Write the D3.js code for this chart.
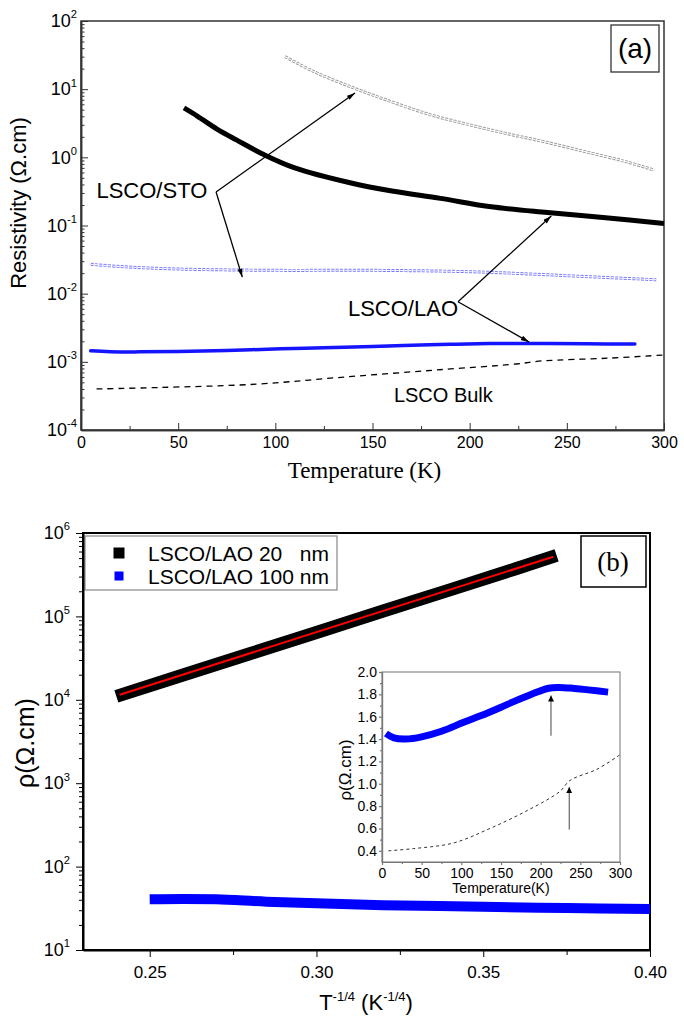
<!DOCTYPE html>
<html>
<head>
<meta charset="utf-8">
<script src="https://cdn.jsdelivr.net/npm/d3@7"></script>
<style>
body { margin: 0; background: #fff; }
svg text { font-family: "Liberation Sans", Arial, sans-serif; fill: #000; }
.serif { font-family: "Liberation Serif", "Times New Roman", serif !important; }
</style>
</head>
<body>
<div id="chart"></div>
<script>
// ---- data ----
// panel (a): temperature (K) vs resistivity (ohm.cm)
var stoGrayT   = [105, 120, 140, 160, 180, 200, 220, 240, 260, 280, 295];
var stoGrayRho = [30, 18, 10.5, 6.5, 4.2, 3.0, 2.2, 1.65, 1.2, 0.87, 0.65];

var stoBlackT   = [53, 60, 70, 80, 94, 110, 139, 160, 185, 210, 240, 270, 300];
var stoBlackRho = [5.3, 4.0, 2.6, 1.8, 1.1, 0.7, 0.42, 0.32, 0.25, 0.19, 0.155, 0.13, 0.107];

var stoBlueT   = [5, 20, 50, 100, 150, 200, 230, 260, 296];
var stoBlueRho = [0.027, 0.025, 0.023, 0.022, 0.022, 0.021, 0.0195, 0.0178, 0.016];

// LSCO/LAO 100 nm and bulk, in mOhm.cm (inset units)
var laoT   = [5, 15, 30, 50, 75, 103, 125, 150, 166, 190, 210, 222, 240, 260, 285];
var laoRho = [1.45, 1.41, 1.40, 1.42, 1.47, 1.55, 1.61, 1.685, 1.735, 1.805, 1.855, 1.862, 1.855, 1.84, 1.82];

var bulkT   = [8, 40, 90, 136, 183, 224, 237, 271, 300];
var bulkRho = [0.40, 0.42, 0.47, 0.60, 0.76, 0.93, 1.03, 1.13, 1.26];

// panel (b): T^-1/4 vs resistivity
var vrh20X   = [0.240, 0.260, 0.280, 0.300, 0.320, 0.340, 0.360, 0.372];
var vrh20Rho = [1.1e4, 1.98e4, 3.57e4, 6.4e4, 1.16e5, 2.08e5, 3.75e5, 5.4e5];
var fitX   = [0.241, 0.371];
var fitRho = [1.15e4, 5.2e5];
var vrh100X   = [0.250, 0.260, 0.270, 0.285, 0.300, 0.320, 0.350, 0.375, 0.400];
var vrh100Rho = [40.5, 41, 40.5, 38, 36.3, 34.5, 33, 31.8, 31];

var legendNames = ["LSCO/LAO 20   nm", "LSCO/LAO 100 nm"];
var tempTicks = [0, 50, 100, 150, 200, 250, 300];
var vrhTicks = [0.25, 0.30, 0.35, 0.40];
var insetYTicks = [0.4, 0.6, 0.8, 1.0, 1.2, 1.4, 1.6, 1.8, 2.0];

// annotation anchors (data units)
var stoFrom = [69.5, 0.31], stoTips = [[141, 8.8], [83, 0.0175]];
var laoFrom = [194, 0.0076], laoTips = [[242, 0.138], [230.6, 0.00195]];
var insetArrows = [[213, 1.43, 1.79], [236, 0.59, 0.97]];

var W = 684, H = 1019;
var svg = d3.select("#chart").append("svg").attr("width", W).attr("height", H);

var defs = svg.append("defs");
defs.append("marker").attr("id", "arr")
    .attr("viewBox", "0 0 10 6").attr("refX", 10).attr("refY", 3)
    .attr("markerWidth", 9).attr("markerHeight", 5).attr("markerUnits", "userSpaceOnUse")
    .attr("orient", "auto")
  .append("path").attr("d", "M0,0L10,3L0,6Z").attr("fill", "#000");
defs.append("marker").attr("id", "arr2")
    .attr("viewBox", "0 0 10 10").attr("refX", 10).attr("refY", 5)
    .attr("markerWidth", 10).attr("markerHeight", 6).attr("markerUnits", "userSpaceOnUse")
    .attr("orient", "auto")
  .append("path").attr("d", "M0,0L10,5L0,10Z").attr("fill", "#000");

function logMinor(lo, hi) {
  var v = [];
  for (var e = lo; e < hi; e++)
    for (var k = 2; k < 10; k++) v.push(k * Math.pow(10, e));
  return v;
}

function logLabels(g) {
  g.selectAll(".tick text").each(function(d) {
    var t = d3.select(this), e = Math.round(Math.log10(d));
    t.text(null);
    t.append("tspan").text("10");
    t.append("tspan").attr("font-size", "0.62em").attr("dy", "-0.8em").text(e);
  });
}

function zipLine(xs, ys, x, y, curve) {
  return d3.line().x(function(d) { return x(d[0]); }).y(function(d) { return y(d[1]); })
    .curve(curve || d3.curveCatmullRom)(d3.zip(xs, ys));
}

// ================= panel (a) =================
var pa = {left: 81, right: 664, top: 21, bottom: 430};
var xa = d3.scaleLinear().domain([0, 300]).range([pa.left, pa.right]);
var ya = d3.scaleLog().domain([1e-4, 1e2]).range([pa.bottom, pa.top]);

svg.append("rect")
    .attr("x", pa.left).attr("y", pa.top)
    .attr("width", pa.right - pa.left).attr("height", pa.bottom - pa.top)
    .attr("fill", "none").attr("stroke", "#333").attr("stroke-width", 1.5);

var ga = svg.append("g");

// open-square dotted series (gray and blue)
[[stoGrayT, stoGrayRho, "#9a9a9a"], [stoBlueT, stoBlueRho, "#7878ff"]].forEach(function(s) {
  var d = zipLine(s[0], s[1], xa, ya);
  ga.append("path").attr("d", d).attr("fill", "none")
    .attr("stroke", s[2]).attr("stroke-width", 3).attr("stroke-dasharray", "3 1.3");
  ga.append("path").attr("d", d).attr("fill", "none")
    .attr("stroke", "#fff").attr("stroke-width", 1.1).attr("stroke-dasharray", "3 1.3");
});

ga.append("path")
    .attr("d", zipLine(stoBlackT, stoBlackRho, xa, ya))
    .attr("fill", "none").attr("stroke", "#000").attr("stroke-width", 5);

ga.append("path")
    .attr("d", zipLine(laoT, laoRho.map(function(v) { return v * 1e-3; }), xa, ya))
    .attr("fill", "none").attr("stroke", "#1414ff").attr("stroke-width", 3.5)
    .attr("stroke-linecap", "round");

ga.append("path")
    .attr("d", zipLine(bulkT, bulkRho.map(function(v) { return v * 1e-3; }), xa, ya))
    .attr("fill", "none").attr("stroke", "#000").attr("stroke-width", 1.3)
    .attr("stroke-dasharray", "6 5");

// annotations
function arrowA(from, to) {
  ga.append("line")
      .attr("x1", xa(from[0])).attr("y1", ya(from[1]))
      .attr("x2", xa(to[0])).attr("y2", ya(to[1]))
      .attr("stroke", "#000").attr("stroke-width", 1.3)
      .attr("marker-end", "url(#arr)");
}
stoTips.forEach(function(t) { arrowA(stoFrom, t); });
laoTips.forEach(function(t) { arrowA(laoFrom, t); });

ga.append("text").attr("x", xa(65)).attr("y", ya(0.33)).attr("dy", "0.36em")
    .attr("text-anchor", "end").attr("font-size", 22).text("LSCO/STO");
ga.append("text").attr("x", xa(194)).attr("y", ya(0.0062)).attr("dy", "0.36em")
    .attr("text-anchor", "end").attr("font-size", 22).text("LSCO/LAO");
ga.append("text").attr("x", xa(161)).attr("y", ya(3.26e-4)).attr("dy", "0.36em")
    .attr("font-size", 20).text("LSCO Bulk");

// axes (inward ticks)
var yaAxis = svg.append("g").attr("transform", "translate(" + pa.left + ",0)")
    .call(d3.axisLeft(ya).tickValues([1e-4, 1e-3, 1e-2, 1e-1, 1, 10, 100])
      .tickSizeInner(-7).tickSizeOuter(0).tickPadding(4));
yaAxis.selectAll("text").attr("font-size", 18).attr("font-family", "Liberation Sans");
logLabels(yaAxis);
svg.append("g").attr("transform", "translate(" + pa.left + ",0)")
    .call(d3.axisLeft(ya).tickValues(logMinor(-4, 2)).tickFormat("").tickSizeInner(-3.5).tickSizeOuter(0));

var xaAxis = svg.append("g").attr("transform", "translate(0," + pa.bottom + ")")
    .call(d3.axisBottom(xa).tickValues(tempTicks).tickSizeInner(-7).tickSizeOuter(0).tickPadding(7));
xaAxis.selectAll("text").attr("font-size", 16).attr("font-family", "Liberation Sans");
svg.append("g").attr("transform", "translate(0," + pa.bottom + ")")
    .call(d3.axisBottom(xa).tickValues([25, 75, 125, 175, 225, 275]).tickFormat("").tickSizeInner(-4).tickSizeOuter(0));

svg.selectAll(".domain").attr("stroke", "#333").attr("stroke-width", 1.5);
svg.selectAll(".tick line").attr("stroke", "#333");

svg.append("text")
    .attr("transform", "translate(26," + 203 + ")rotate(-90)")
    .attr("text-anchor", "middle").attr("font-size", 22)
    .text("Resistivity (\u03A9.cm)");

svg.append("text").attr("class", "serif")
    .attr("x", (pa.left + pa.right) / 2 - 8).attr("y", 478)
    .attr("text-anchor", "middle").attr("font-size", 23)
    .text("Temperature (K)");

svg.append("rect").attr("x", 611).attr("y", 25).attr("width", 48).attr("height", 47)
    .attr("fill", "#fff").attr("stroke", "#333").attr("stroke-width", 1.3);
svg.append("text").attr("x", 635).attr("y", 58).attr("text-anchor", "middle")
    .attr("font-size", 28).text("(a)");

// ================= panel (b) =================
var pb = {left: 83, right: 650, top: 533, bottom: 950};
var xb = d3.scaleLinear().domain([0.23, 0.40]).range([pb.left, pb.right]);
var yb = d3.scaleLog().domain([10, 1e6]).range([pb.bottom, pb.top]);

svg.append("rect")
    .attr("x", pb.left).attr("y", pb.top)
    .attr("width", pb.right - pb.left).attr("height", pb.bottom - pb.top)
    .attr("fill", "none").attr("stroke", "#000").attr("stroke-width", 2);

var gb = svg.append("g");
gb.append("path")
    .attr("d", zipLine(vrh20X, vrh20Rho, xb, yb, d3.curveLinear))
    .attr("fill", "none").attr("stroke", "#000").attr("stroke-width", 13);
gb.append("path")
    .attr("d", zipLine(fitX, fitRho, xb, yb, d3.curveLinear))
    .attr("fill", "none").attr("stroke", "#ff0000").attr("stroke-width", 2);
gb.append("path")
    .attr("d", zipLine(vrh100X, vrh100Rho, xb, yb))
    .attr("fill", "none").attr("stroke", "#0000ff").attr("stroke-width", 10);

// legend
var leg = svg.append("g");
leg.append("rect").attr("x", 85).attr("y", 536).attr("width", 252).attr("height", 54)
    .attr("fill", "#fff").attr("stroke", "#888").attr("stroke-width", 1.2);
legendNames.forEach(function(name, i) {
  var cy = 553 + i * 23;
  var s = i === 0 ? 11 : 9;
  leg.append("rect").attr("x", 119 - s / 2).attr("y", cy - s / 2).attr("width", s).attr("height", s)
      .attr("fill", i === 0 ? "#000" : "#0000ff");
  leg.append("text").attr("x", 148).attr("y", cy).attr("dy", "0.36em")
      .attr("font-size", 21).style("white-space", "pre").text(name);
});

svg.append("rect").attr("x", 581).attr("y", 536).attr("width", 65).attr("height", 51)
    .attr("fill", "#fff").attr("stroke", "#000").attr("stroke-width", 1.5);
svg.append("text").attr("class", "serif").attr("x", 613).attr("y", 571)
    .attr("text-anchor", "middle").attr("font-size", 27).text("(b)");

// axes (outward ticks)
var ybAxis = svg.append("g").attr("transform", "translate(" + pb.left + ",0)")
    .call(d3.axisLeft(yb).tickValues([10, 100, 1e3, 1e4, 1e5, 1e6])
      .tickSizeInner(7).tickSizeOuter(0).tickPadding(6));
ybAxis.selectAll("text").attr("font-size", 18).attr("font-family", "Liberation Sans");
logLabels(ybAxis);
svg.append("g").attr("transform", "translate(" + pb.left + ",0)")
    .call(d3.axisLeft(yb).tickValues(logMinor(1, 6)).tickFormat("").tickSizeInner(4).tickSizeOuter(0));

var xbAxis = svg.append("g").attr("transform", "translate(0," + pb.bottom + ")")
    .call(d3.axisBottom(xb).tickValues(vrhTicks).tickFormat(d3.format(".2f"))
      .tickSizeInner(7).tickSizeOuter(0).tickPadding(9));
xbAxis.selectAll("text").attr("font-size", 17).attr("font-family", "Liberation Sans");
svg.append("g").attr("transform", "translate(0," + pb.bottom + ")")
    .call(d3.axisBottom(xb).tickValues([0.275, 0.325, 0.375]).tickFormat("").tickSizeInner(5).tickSizeOuter(0));

ybAxis.select(".domain").attr("stroke", "#000").attr("stroke-width", 2);
xbAxis.select(".domain").attr("stroke", "#000").attr("stroke-width", 2);

svg.append("text")
    .attr("transform", "translate(34," + 743 + ")rotate(-90)")
    .attr("text-anchor", "middle").attr("font-size", 25)
    .text("\u03C1(\u03A9.cm)");

var xt = svg.append("text").attr("x", 366).attr("y", 1010)
    .attr("text-anchor", "middle").attr("font-size", 22);
xt.append("tspan").text("T");
xt.append("tspan").attr("font-size", 13).attr("dy", -9).text("-1/4");
xt.append("tspan").attr("dy", 9).text(" (K");
xt.append("tspan").attr("font-size", 13).attr("dy", -9).text("-1/4");
xt.append("tspan").attr("dy", 9).text(")");

// ================= inset =================
var pi = {left: 382, right: 620, top: 672, bottom: 862};
var xi = d3.scaleLinear().domain([0, 300]).range([pi.left, pi.right]);
var yi = d3.scaleLinear().domain([0.3, 2.0]).range([pi.bottom, pi.top]);

svg.append("rect")
    .attr("x", pi.left).attr("y", pi.top)
    .attr("width", pi.right - pi.left).attr("height", pi.bottom - pi.top)
    .attr("fill", "#fff").attr("stroke", "#8a8a8a").attr("stroke-width", 1.2);

var gi = svg.append("g");
gi.append("path")
    .attr("d", zipLine(laoT, laoRho, xi, yi))
    .attr("fill", "none").attr("stroke", "#0000ff").attr("stroke-width", 7);
gi.append("path")
    .attr("d", zipLine(bulkT, bulkRho, xi, yi))
    .attr("fill", "none").attr("stroke", "#333").attr("stroke-width", 1)
    .attr("stroke-dasharray", "3 3");

insetArrows.forEach(function(a) {
  gi.append("line")
      .attr("x1", xi(a[0])).attr("y1", yi(a[1]))
      .attr("x2", xi(a[0])).attr("y2", yi(a[2]))
      .attr("stroke", "#444").attr("stroke-width", 1)
      .attr("marker-end", "url(#arr2)");
});

var yiAxis = svg.append("g").attr("transform", "translate(" + pi.left + ",0)")
    .call(d3.axisLeft(yi).tickValues(insetYTicks).tickFormat(d3.format(".1f"))
      .tickSizeInner(3).tickSizeOuter(0).tickPadding(2));
var yiMinor = svg.append("g").attr("transform", "translate(" + pi.left + ",0)")
    .call(d3.axisLeft(yi).tickValues([0.5, 0.7, 0.9, 1.1, 1.3, 1.5, 1.7, 1.9]).tickFormat("")
      .tickSizeInner(2).tickSizeOuter(0));
var xiAxis = svg.append("g").attr("transform", "translate(0," + pi.bottom + ")")
    .call(d3.axisBottom(xi).tickValues(tempTicks).tickSizeInner(3).tickSizeOuter(0).tickPadding(3));
var xiMinor = svg.append("g").attr("transform", "translate(0," + pi.bottom + ")")
    .call(d3.axisBottom(xi).tickValues([25, 75, 125, 175, 225, 275]).tickFormat("")
      .tickSizeInner(2).tickSizeOuter(0));
[yiAxis, xiAxis].forEach(function(g) {
  g.selectAll("text").attr("font-size", 14).attr("font-family", "Liberation Sans");
});
[yiAxis, yiMinor, xiAxis, xiMinor].forEach(function(g) {
  g.selectAll(".domain, .tick line").attr("stroke", "#777").attr("stroke-width", 1.2);
});

svg.append("text")
    .attr("transform", "translate(351," + 770 + ")rotate(-90)")
    .attr("text-anchor", "middle").attr("font-size", 17)
    .text("\u03C1(\u03A9.cm)");
svg.append("text")
    .attr("x", (pi.left + pi.right) / 2).attr("y", 893)
    .attr("text-anchor", "middle").attr("font-size", 14)
    .text("Temperature(K)");
</script>
</body>
</html>
